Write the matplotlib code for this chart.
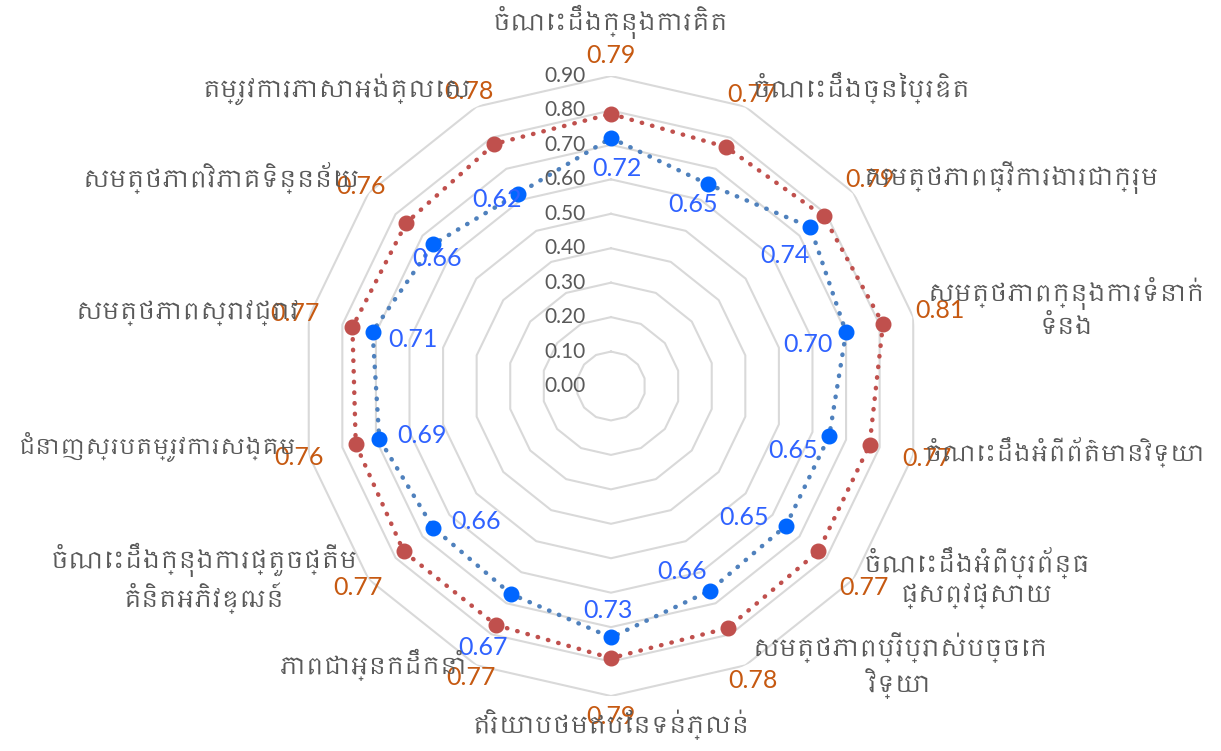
import numpy as np
import matplotlib
matplotlib.use("Agg")
import matplotlib.pyplot as plt
from matplotlib import font_manager
from matplotlib.ft2font import FT2Font

# find a font that has Khmer glyphs, if any is installed
khmer_font = None
cands = sorted(font_manager.fontManager.ttflist, key=lambda f: "Khmer" not in f.name)
for f in cands:
    try:
        if ord("ក") in FT2Font(f.fname).get_charmap():
            khmer_font = f.name
            break
    except Exception:
        pass

label_family = ([khmer_font] if khmer_font else []) + ["Lato", "DejaVu Sans"]
num_family = ["Lato", "DejaVu Sans"]

categories = [
    "ចំណេះដឹងក្នុងការគិត",
    "ចំណេះដឹងច្នៃប្រឌិត",
    "សមត្ថភាពធ្វើការងារជាក្រុម",
    "សមត្ថភាពក្នុងការទំនាក់\nទំនង",
    "ចំណេះដឹងអំពីព័ត៌មានវិទ្យា",
    "ចំណេះដឹងអំពីប្រព័ន្ធ\nផ្សព្វផ្សាយ",
    "សមត្ថភាពប្រើប្រាស់បច្ចេក\nវិទ្យា",
    "ឥរិយាបថមឥបែនទន់ភ្លន់",
    "ភាពជាអ្នកដឹកនាំ",
    "ចំណេះដឹងក្នុងការផ្តួចផ្តើម\nគំនិតអភិវឌ្ឍន៍",
    "ជំនាញស្របតម្រូវការសង្គម",
    "សមត្ថភាពស្រាវជ្រាវ",
    "សមត្ថភាពវិភាគទិន្នន័យ",
    "តម្រូវការភាសាអង់គ្លេស",
]
red_values = [0.79, 0.77, 0.79, 0.81, 0.77, 0.77, 0.78, 0.79, 0.77, 0.77, 0.76, 0.77, 0.76, 0.78]
blue_values = [0.72, 0.65, 0.74, 0.70, 0.65, 0.65, 0.66, 0.73, 0.67, 0.66, 0.69, 0.71, 0.66, 0.62]
ring_values = [0.10, 0.20, 0.30, 0.40, 0.50, 0.60, 0.70, 0.80, 0.90]
tick_values = [0.00, 0.10, 0.20, 0.30, 0.40, 0.50, 0.60, 0.70, 0.80, 0.90]

# layout: pixel offsets for category labels (from outer ring vertex) and blue value labels
cat_offsets = [(0, 54, "center"), (7, 19, "left"), (10, 15, "left"), (14, 10, "left"),
               (12, 3, "left"), (10, 1, "left"), (7, 0, "left"), (0, -29, "center"),
               (-9, 0, "right"), (-11, 1, "right"), (-12, 8, "right"), (-9, 4, "right"),
               (-9, 15, "right"), (-5, 17, "right")]
cat_sizes = [17, 17, 17, 17, 16.5, 17, 17, 17, 17, 17, 16, 17, 17, 17]
blue_offsets = [(6, -30), (-15, -20), (-25, -28), (-38, -12), (-36, -15), (-42, 8), (-28, 19),
                (-3, 27), (-28, -54), (43, 6), (43, 3), (40, -8), (4, -14), (-21, -6)]

n = len(categories)
angles = np.linspace(0, 2 * np.pi, n, endpoint=False)
closed = np.append(angles, angles[0])

fig = plt.figure(figsize=(12.21, 7.51), dpi=100)
ax = fig.add_axes([0.2465, 0.0732, 0.5078, 0.8256], projection="polar")
ax.set_theta_zero_location("N")
ax.set_theta_direction(-1)
ax.set_ylim(0, 0.9)
ax.grid(False)
ax.spines["polar"].set_visible(False)
ax.set_xticks([])
ax.set_yticks([])

for rv in ring_values:
    ax.plot(closed, [rv] * (n + 1), color="#D9D9D9", lw=1.5, zorder=1)

red = red_values + red_values[:1]
blue = blue_values + blue_values[:1]
ax.plot(closed, red, color="#C0504D", lw=3.2, linestyle=(0, (0.1, 2.3)),
        dash_capstyle="round", zorder=3)
ax.plot(angles, red_values, "o", color="#C0504D", ms=10.5, zorder=4)
ax.plot(closed, blue, color="#4F81BD", lw=3.2, linestyle=(0, (0.1, 2.3)),
        dash_capstyle="round", zorder=3)
ax.plot(angles, blue_values, "o", color="#0066FF", ms=10.5, zorder=4)

for tv in tick_values:
    ax.annotate(f"{tv:.2f}", xy=(0, tv), xytext=(-25, 0), textcoords="offset pixels",
                ha="right", va="center", fontsize=15, color="#595959", family=num_family)

for i, (a, rv, bv) in enumerate(zip(angles, red_values, blue_values)):
    ax.text(a, rv + 0.17, f"{rv:.2f}", ha="center", va="center", fontsize=18,
            color="#C65911", family=num_family, zorder=5)
    dx, dy = blue_offsets[i]
    ax.annotate(f"{bv:.2f}", xy=(a, bv), xytext=(dx, dy), textcoords="offset pixels",
                ha="center", va="center", fontsize=18, color="#2F62FF", family=num_family, zorder=5)
    cx, cy, ha = cat_offsets[i]
    ax.annotate(categories[i], xy=(a, 0.9), xytext=(cx, cy), textcoords="offset pixels",
                ha=ha, va="center", multialignment="center", fontsize=cat_sizes[i],
                color="#595959", family=label_family, annotation_clip=False, zorder=6)

fig.savefig("out.png", dpi=100)
